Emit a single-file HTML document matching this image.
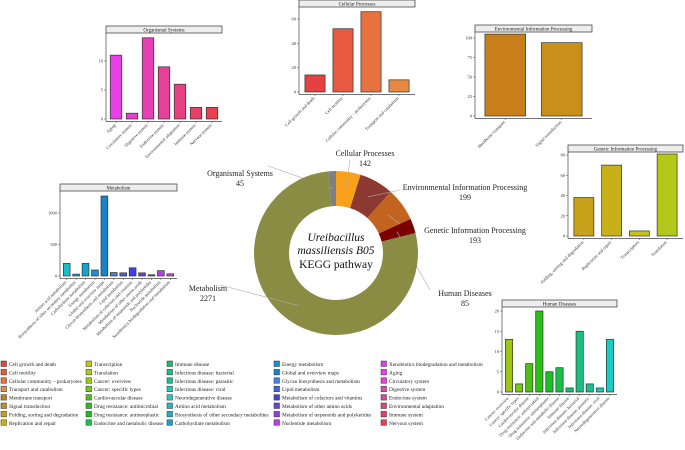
<!DOCTYPE html>
<html><head><meta charset="utf-8"><style>
html,body{margin:0;padding:0;background:#fff;}
svg{display:block;font-family:"Liberation Serif",serif;}
</style></head><body>
<svg id="fig" width="685" height="450" viewBox="0 0 685 450">
</svg>
<script>
// ---- data ----
const legendLabels = ["Cell growth and death","Cell motility","Cellular community \u2013 prokaryotes","Transport and catabolism","Membrane transport","Signal transduction","Folding, sorting and degradation","Replication and repair","Transcription","Translation","Cancer: overview","Cancer: specific types","Cardiovascular disease","Drug resistance: antimicrobial","Drug resistance: antineoplastic","Endocrine and metabolic disease","Immune disease","Infectious disease: bacterial","Infectious disease: parasitic","Infectious disease: viral","Neurodegenerative disease","Amino acid metabolism","Biosynthesis of other secondary metabolites","Carbohydrate metabolism","Energy metabolism","Global and overview maps","Glycan biosynthesis and metabolism","Lipid metabolism","Metabolism of cofactors and vitamins","Metabolism of other amino acids","Metabolism of terpenoids and polyketides","Nucleotide metabolism","Xenobiotics biodegradation and metabolism","Aging","Circulatory system","Digestive system","Endocrine system","Environmental adaptation","Immune system","Nervous system"];
const cellValues = [14,52,66,10];
const envValues = [105,94];
const genValues = [38,70,5,81];
const humValues = [13,2,7,20,5,6,1,15,2,1,13];
const metValues = [200,30,200,95,1270,55,50,130,50,20,85,35];
const orgValues = [11,1,14,9,6,2,2];
const cellTicks = [0,20,40,60];
const envTicks = [0,25,50,75,100];
const genTicks = [0,20,40,60,80];
const humTicks = [0,5,10,15,20];
const metTicks = [0,500,1000];
const orgTicks = [0,5,10];
const donutCategories = ["Organismal Systems","Cellular Processes","Environmental Information Processing","Genetic Information Processing","Human Diseases","Metabolism"];
const donutValues = [45,142,199,193,85,2271];
const donutColors = ["#7f7f7f","#f9a11b","#8c3a31","#c2641f","#7a0000","#8b8c43"];

const NS="http://www.w3.org/2000/svg";
const svg=document.getElementById('fig');
function mk(tag,attrs,parent){const e=document.createElementNS(NS,tag);for(const k in attrs)e.setAttribute(k,attrs[k]);(parent||svg).appendChild(e);return e;}
// hue anchors (index -> hue) approximating ggplot default palette
const hueIdx=[0,4,8,10,16,21,25,28,32,33,39];
const hueVal=[0,35,58,75,150,185,205,240,295,300,355];
function col(i){
  let h=0;
  for(let k=0;k<hueIdx.length-1;k++){if(i>=hueIdx[k]&&i<=hueIdx[k+1]){h=hueVal[k]+(hueVal[k+1]-hueVal[k])*(i-hueIdx[k])/(hueIdx[k+1]-hueIdx[k]);break;}}
  let l=58; if(h>30&&h<90) l=44; else if(h>=90&&h<170) l=42; else if(h>=170&&h<210) l=45;
  return 'hsl('+h.toFixed(0)+',78%,'+l+'%)';
}

function panel(name,title,vals,ticks,startIdx,L,R,titleTop,zeroY,top,maxV){
  const g=mk('g',{});
  
  
  const tb=mk('rect',{x:L,y:titleTop,width:R-L,height:7,fill:'#eee',stroke:'#333','stroke-width':0.7},g);
  
  
  const tt=mk('text',{x:(L+R)/2,y:titleTop+5.5,'font-size':5,'text-anchor':'middle',fill:'#222'},g);
  tt.textContent=title;
  
  
  const axY=zeroY+2.5;
  const yS=v=>zeroY-(v/maxV)*(zeroY-top);
  mk('line',{x1:L,y1:titleTop+7,x2:L,y2:axY,stroke:'#444','stroke-width':0.7},g);
  mk('line',{x1:L,y1:axY,x2:R,y2:axY,stroke:'#444','stroke-width':0.7},g);
  ticks.forEach(t=>{
    const y=yS(t);
    mk('line',{x1:L-2,y1:y,x2:L,y2:y,stroke:'#444','stroke-width':0.5},g);
    const tx=mk('text',{x:L-3,y:y+1.5,'font-size':4.5,'text-anchor':'end',fill:'#333'},g);
    tx.textContent=t;
    
    
  });
  const band=(R-L-4)/vals.length;
  vals.forEach((v,i)=>{
    const cx=L+2+band*(i+0.5), w=band*0.72;
    const r=mk('rect',{x:cx-w/2,y:yS(v),width:w,height:zeroY-yS(v),fill:col(startIdx+i),stroke:'#333','stroke-width':0.7},g);
    
    
    mk('line',{x1:cx,y1:axY,x2:cx,y2:axY+1.5,stroke:'#444','stroke-width':0.5},g);
    const lb=mk('text',{x:cx,y:axY+4,'font-size':4.5,'text-anchor':'end',fill:'#333',transform:'rotate(-45 '+cx+' '+(axY+4)+')'},g);
    lb.textContent=legendLabels[startIdx+i];
    
    
  });
}
panel('organismal','Organismal Systems',orgValues,orgTicks,33,106,222,26,119,61,10);
panel('cellular','Cellular Processes',cellValues,cellTicks,0,299,415,0,92,19,60);
panel('environmental','Environmental Information Processing',envValues,envTicks,4,475,592,25,116,38,100);
panel('genetic','Genetic Information Processing',genValues,genTicks,6,568,683,145,236,155,80);
panel('metabolism','Metabolism',metValues,metTicks,21,60,177,184,276,213,1000);
panel('human','Human Diseases',humValues,humTicks,10,502,617,300,392,311,20);

// donut
const cx=336,cy=253,R=82,r0=47;
const total=donutValues.reduce((a,b)=>a+b,0);
let a0=-donutValues[0]/total*2*Math.PI;
const dg=mk('g',{});


const labelPos=[[240,176,'middle'],[365,156,'middle'],[465,190,'middle'],[475,233,'middle'],[465,296,'middle'],[208,291,'middle']];
const lineEnd=[[268,166],[350,160],[400,190],[410,232],[430,290],[220,285]];
donutValues.forEach((v,i)=>{
  const a1=a0+v/total*2*Math.PI;
  const p=(a,rr)=>[cx+rr*Math.sin(a),cy-rr*Math.cos(a)];
  const [x1,y1]=p(a0,R),[x2,y2]=p(a1,R),[x3,y3]=p(a1,r0),[x4,y4]=p(a0,r0);
  const lg=(a1-a0)>Math.PI?1:0;
  const s=mk('path',{d:`M${x1},${y1}A${R},${R} 0 ${lg} 1 ${x2},${y2}L${x3},${y3}A${r0},${r0} 0 ${lg} 0 ${x4},${y4}Z`,fill:donutColors[i]},dg);
  
  
  const am=(a0+a1)/2, [mx,my]=p(am,(R+r0)/2);
  mk('line',{x1:mx,y1:my,x2:lineEnd[i][0],y2:lineEnd[i][1],stroke:'#aaa','stroke-width':0.6},dg);
  const [lx,ly,an]=labelPos[i];
  const t=mk('text',{x:lx,y:ly,'font-size':8,'text-anchor':an,fill:'#222'},dg);
  t.textContent=donutCategories[i];
  
  
  const t2=mk('text',{x:lx,y:ly+10,'font-size':8,'text-anchor':an,fill:'#222'},dg);
  t2.textContent=v;
  
  
  a0=a1;
});
[['Ureibacillus',241,'italic'],['massiliensis B05',254,'italic'],['KEGG pathway',268,'normal']].forEach(([s,y,st])=>{
  const t=mk('text',{x:cx,y:y,'font-size':11.5,'text-anchor':'middle','font-style':st,fill:'#111'},dg);
  t.textContent=s;
  
  
});

// legend
const colX=[1,86,167,274,381];
legendLabels.forEach((s,i)=>{
  const c=Math.floor(i/8), rw=i%8;
  const x=colX[c], y=366+rw*8.4;
  const b=mk('rect',{x:x,y:y-5,width:5.5,height:5.5,fill:col(i),stroke:'#333','stroke-width':0.5});
  
  
  const t=mk('text',{x:x+8,y:y,'font-size':5.3,fill:'#222'});
  t.textContent=s;
  
  
});
</script>
</body></html>
